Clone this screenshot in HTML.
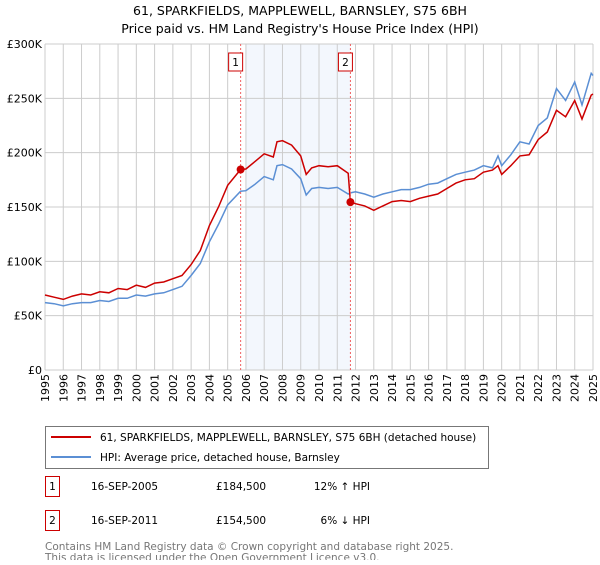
<!DOCTYPE html>
<html><head><meta charset="utf-8"><style>
body{margin:0;background:#fff;font-family:"Liberation Sans","DejaVu Sans",sans-serif;}
</style></head><body>
<svg id="c" width="600" height="560" xmlns="http://www.w3.org/2000/svg" font-family="DejaVu Sans, Liberation Sans, sans-serif">
<text x="300" y="15" font-size="12.5" text-anchor="middle">61, SPARKFIELDS, MAPPLEWELL, BARNSLEY, S75 6BH</text>
<text x="300" y="33" font-size="12.5" text-anchor="middle">Price paid vs. HM Land Registry's House Price Index (HPI)</text>
<g id="g"></g>
<rect x="45.5" y="426.5" width="443" height="42" fill="#fff" stroke="#777"/>
<line x1="51" y1="437" x2="91" y2="437" stroke="#cc0000" stroke-width="2"/>
<text x="100" y="441" font-size="10.5">61, SPARKFIELDS, MAPPLEWELL, BARNSLEY, S75 6BH (detached house)</text>
<line x1="51" y1="457" x2="91" y2="457" stroke="#5b8fd4" stroke-width="2"/>
<text x="100" y="461" font-size="10.5">HPI: Average price, detached house, Barnsley</text>
<g font-size="10.5">
<rect x="45.5" y="476.5" width="14" height="20" fill="#fff" stroke="#cc0000"/><text x="52.5" y="490" text-anchor="middle">1</text>
<text x="91" y="490">16-SEP-2005</text><text x="216" y="490">£184,500</text><text x="370" y="490" text-anchor="end">12% ↑ HPI</text></g>
<g font-size="10.5">
<rect x="45.5" y="510.5" width="14" height="20" fill="#fff" stroke="#cc0000"/><text x="52.5" y="524" text-anchor="middle">2</text>
<text x="91" y="524">16-SEP-2011</text><text x="216" y="524">£154,500</text><text x="370" y="524" text-anchor="end">6% ↓ HPI</text></g>
<text x="45" y="550" font-size="10.5" fill="#777">Contains HM Land Registry data © Crown copyright and database right 2025.</text>
<text x="45" y="561" font-size="10.5" fill="#777">This data is licensed under the Open Government Licence v3.0.</text>
</svg>
<script>
const years=[1995,1995.5,1996,1996.5,1997,1997.5,1998,1998.5,1999,1999.5,2000,2000.5,2001,2001.5,2002,2002.5,2003,2003.5,2004,2004.5,2005,2005.71,2006,2006.5,2007,2007.5,2007.7,2008,2008.5,2009,2009.3,2009.6,2010,2010.5,2011,2011.6,2011.72,2012,2012.5,2013,2013.5,2014,2014.5,2015,2015.5,2016,2016.5,2017,2017.5,2018,2018.5,2019,2019.5,2019.8,2020,2020.5,2021,2021.5,2022,2022.5,2023,2023.5,2024,2024.4,2024.9,2025];
const priceK=[69,67,65,68,70,69,72,71,75,74,78,76,80,81,84,87,97,110,133,150,170,184.5,185,192,199,196,210,211,207,197,180,186,188,187,188,181,154.5,153,151,147,151,155,156,155,158,160,162,167,172,175,176,182,184,188,180,188,197,198,212,219,239,233,248,231,253,254];
const hpiK=[62,61,59,61,62,62,64,63,66,66,69,68,70,71,74,77,87,98,118,134,152,164.5,165,171,178,175,188,189,185,176,161,167,168,167,168,162,163,164,162,159,162,164,166,166,168,171,172,176,180,182,184,188,186,197,188,198,210,208,225,232,259,248,265,244,273,271];
const yTicks=[0,50,100,150,200,250,300];
const yTickLabels=["£0","£50K","£100K","£150K","£200K","£250K","£300K"];
const sales=[{year:2005.71,valueK:184.5,label:"1"},{year:2011.72,valueK:154.5,label:"2"}];
const shadeStartYear=2006, shadeEndYear=2011.72;

const NS="http://www.w3.org/2000/svg",g=document.getElementById("g");
const X0=45,X1=593,Y0=370,Y1=44;
const xs=y=>X0+(y-1995)/30*(X1-X0), ys=v=>Y0-v/300*(Y0-Y1);
function mk(t,a,p){const e=document.createElementNS(NS,t);for(const k in a)e.setAttribute(k,a[k]);(p||g).appendChild(e);return e;}
let r=mk("rect",{x:xs(shadeStartYear),y:Y1,width:xs(shadeEndYear)-xs(shadeStartYear),height:Y0-Y1,fill:"#eef3fc",opacity:"0.7"});


for(let yr=1995;yr<=2025;yr++){
 const l=mk("line",{x1:xs(yr),x2:xs(yr),y1:Y1,y2:Y0,stroke:"#ccc","stroke-width":1});
 
 
 const t=mk("text",{transform:`translate(${xs(yr)+4},${Y0+4}) rotate(-90)`,"font-size":"11","text-anchor":"end"});
 
 
 t.textContent=yr;
}
yTicks.forEach((v,i)=>{
 const l=mk("line",{x1:X0,x2:X1,y1:ys(v),y2:ys(v),stroke:"#ccc","stroke-width":1});
 
 
 const t=mk("text",{x:X0-3,y:ys(v)+4,"font-size":"11","text-anchor":"end"});
 
 
 t.textContent=yTickLabels[i];
});
const pl=arr=>arr.map((v,i)=>xs(years[i]).toFixed(1)+","+ys(v).toFixed(1)).join(" ");
let h=mk("polyline",{points:pl(hpiK),fill:"none",stroke:"#5b8fd4","stroke-width":1.5});


let p=mk("polyline",{points:pl(priceK),fill:"none",stroke:"#cc0000","stroke-width":1.5});


sales.forEach(s=>{
 const l=mk("line",{x1:xs(s.year),x2:xs(s.year),y1:Y1,y2:Y0,stroke:"#f06060","stroke-dasharray":"2,2","stroke-width":1});
 
 
 const c=mk("circle",{cx:xs(s.year),cy:ys(s.valueK),r:4,fill:"#cc0000"});
 
 
 const b=mk("rect",{x:xs(s.year)-12,y:53,width:14,height:18,fill:"#fff",stroke:"#cc0000"});
 
 
 const t=mk("text",{x:xs(s.year)-5,y:66,"font-size":"10.5","text-anchor":"middle"});
 
 
 t.textContent=s.label;
});
</script>
</body></html>
